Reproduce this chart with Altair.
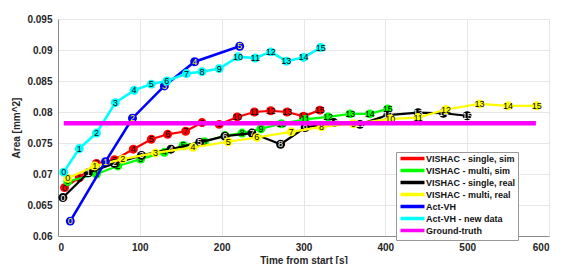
import altair as alt
import pandas as pd

series_names = ["VISHAC - single, sim", "VISHAC - multi, sim", "VISHAC - single, real",
                "VISHAC - multi, real", "Act-VH", "Act-VH - new data", "Ground-truth"]
series_colors = ["#ff0000", "#00ff00", "#000000", "#ffff00", "#0000ff", "#00ffff", "#ff00ff"]
label_colors = ["#000000", "#000000", "#ffffff", "#000000", "#ffff00", "#000000"]

red_x = [8, 26, 47, 69, 92, 114, 134, 156, 176, 197, 219, 240, 260, 280, 300, 320]
red_y = [0.0678, 0.0694, 0.0717, 0.0723, 0.0740, 0.0756, 0.0764, 0.0769, 0.0783, 0.0780,
         0.0792, 0.0800, 0.0802, 0.0800, 0.0793, 0.0803]

green_x = [12, 47, 73, 101, 130, 153, 179, 204, 225, 248, 273, 302, 330, 357, 381, 403]
green_y = [0.0688, 0.0700, 0.0713, 0.0724, 0.0735, 0.0746, 0.0752, 0.0762, 0.0766, 0.0773,
           0.0781, 0.0788, 0.0792, 0.0797, 0.0797, 0.0805]

black_x = [6, 37, 69, 102, 138, 173, 204, 237, 272, 302, 337, 369, 403, 440, 471, 500]
black_y = [0.0662, 0.0702, 0.0717, 0.0730, 0.0740, 0.0751, 0.0761, 0.0766, 0.0748, 0.0775,
           0.0783, 0.0780, 0.0795, 0.0799, 0.0798, 0.0794]

yellow_x = [12, 45, 79, 119, 165, 208, 243, 285, 322, 361, 406, 440, 474, 515, 550, 585]
yellow_y = [0.0693, 0.0713, 0.0724, 0.0734, 0.0743, 0.0752, 0.0759, 0.0768, 0.0776, 0.0781,
            0.0789, 0.0791, 0.0804, 0.0813, 0.0810, 0.0810]

blue_x = [15, 58, 91, 130, 167, 222]
blue_y = [0.0624, 0.0720, 0.0790, 0.0842, 0.0881, 0.0906]

cyan_x = [7, 26, 47, 70, 93, 114, 133, 157, 176, 197, 220, 241, 260, 279, 300, 321]
cyan_y = [0.0703, 0.0741, 0.0766, 0.0815, 0.0835, 0.0845, 0.0850, 0.0862, 0.0865, 0.0870,
          0.0889, 0.0887, 0.0897, 0.0882, 0.0888, 0.0904]

gt_x = [7, 584]
gt_y = [0.0782, 0.0782]

x_ticks = [0, 100, 200, 300, 400, 500, 600]
y_ticks = [0.06, 0.065, 0.07, 0.075, 0.08, 0.085, 0.09, 0.095]

color_scale = alt.Scale(domain=series_names, range=series_colors)
legend = alt.Legend(title=None, orient="none", legendX=338, legendY=133,
                    symbolType="M-6,0H6", symbolStrokeWidth=3.5, symbolSize=16,
                    symbolOffset=10,
                    labelFontSize=9, labelFontWeight="bold", labelColor="#111111",
                    fillColor="#ffffff", strokeColor="#999999", padding=2,
                    rowPadding=-3, labelOffset=9,
                    labelExpr="datum.label + '     '")

X = alt.X("t:Q", scale=alt.Scale(domain=[0, 600], nice=False),
          axis=alt.Axis(values=x_ticks, title="Time from start [s]"))
Y = alt.Y("area:Q", scale=alt.Scale(domain=[0.06, 0.095], nice=False, zero=False),
          axis=alt.Axis(values=y_ticks, format="~g", title="Area [mm^2]"))

all_x = [red_x, green_x, black_x, yellow_x, blue_x, cyan_x]
all_y = [red_y, green_y, black_y, yellow_y, blue_y, cyan_y]
widths = [2.2, 2.2, 2.2, 2.2, 2.6, 2.6]

layers = []
for i in range(6):
    df = pd.DataFrame({"t": all_x[i], "area": all_y[i],
                       "idx": [str(k) for k in range(len(all_x[i]))],
                       "series": series_names[i]})
    base = alt.Chart(df)
    layers.append(base.mark_line(strokeWidth=widths[i]).encode(
        x=X, y=Y, color=alt.Color("series:N", scale=color_scale, legend=legend)))
    layers.append(base.mark_circle(size=80, opacity=1, color=series_colors[i]).encode(x=X, y=Y))
    layers.append(base.mark_text(fontSize=9, color=label_colors[i]).encode(
        x=X, y=Y, text="idx:N"))

gt_df = pd.DataFrame({"t": gt_x, "area": gt_y, "series": series_names[6]})
layers.append(alt.Chart(gt_df).mark_line(strokeWidth=4.5).encode(
    x=X, y=Y, color=alt.Color("series:N", scale=color_scale, legend=legend)))

chart = alt.layer(*layers).properties(
    width=491, height=217,
    autosize=alt.AutoSizeParams(type="none"),
    padding={"left": 50, "top": 11, "right": 25, "bottom": 28},
).configure(font="Liberation Sans").configure_view(strokeWidth=0).configure_axis(
    grid=True, gridColor="#e6e6e6", gridWidth=1,
    domainColor="#8a8a8a", domainWidth=1, ticks=False,
    labelFontSize=10, labelFontWeight="bold", labelColor="#262626",
    titleFontSize=10, titleFontWeight="bold", titleColor="#262626",
    labelPadding=6,
).configure_axisY(titlePadding=5).configure_axisX(titlePadding=3)

chart.save("out.html", embed_options={"renderer": "svg", "actions": False})
